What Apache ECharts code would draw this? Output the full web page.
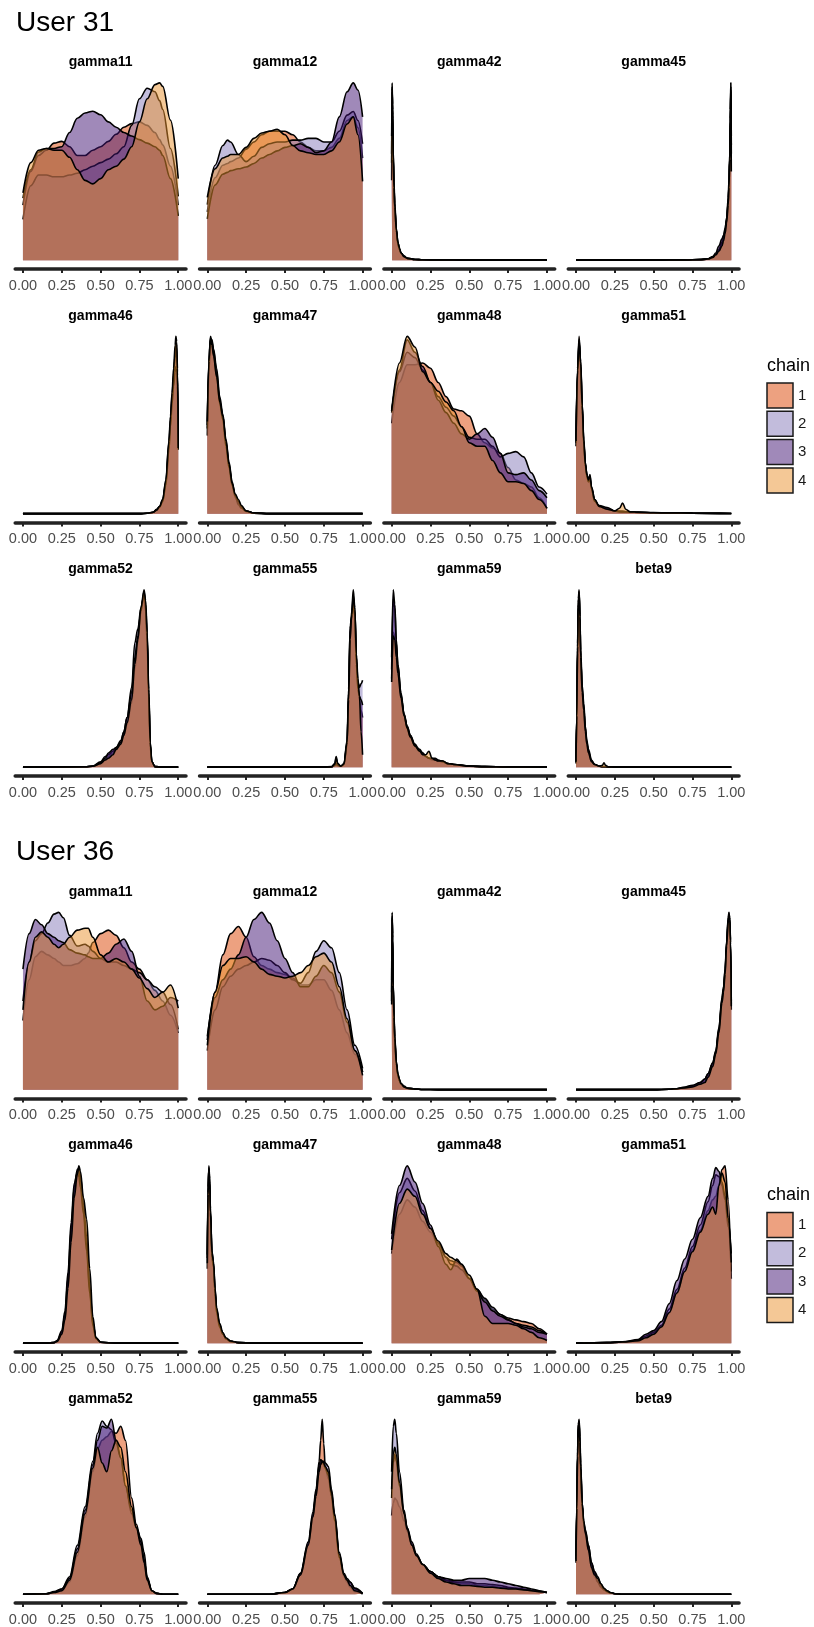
<!DOCTYPE html>
<html>
<head>
<meta charset="utf-8">
<script src="https://cdn.jsdelivr.net/npm/echarts@6/dist/echarts.min.js"></script>
<style>
html,body{margin:0;padding:0;background:#ffffff;}
#chart{width:814px;height:1627px;}
</style>
</head>
<body>
<div id="chart"></div>
<script>
// ---- chains, parameters, axis ticks ----
const chains = ['1', '2', '3', '4'];
const chainFill = ['rgba(219,67,1,0.5)', 'rgba(133,121,185,0.5)', 'rgba(65,19,115,0.5)', 'rgba(233,145,45,0.5)'];
const users = ['User 31', 'User 36'];
const params = ['gamma11', 'gamma12', 'gamma42', 'gamma45', 'gamma46', 'gamma47', 'gamma48', 'gamma51', 'gamma52', 'gamma55', 'gamma59', 'beta9'];
const xTicks = [0, 0.25, 0.5, 0.75, 1];
const xTickLabels = ['0.00', '0.25', '0.50', '0.75', '1.00'];

// ---- posterior densities, User 31 (x grid, then one row per chain) ----
const u31_gamma11_x = [0,0.05,0.1,0.15,0.2,0.25,0.3,0.35,0.4,0.45,0.5,0.55,0.6,0.65,0.7,0.75,0.8,0.85,0.88,0.9,0.95,1];
const u31_gamma11 = [
  [31,50,59,62,66,67,64,59,59,62,64,67,71,75,77,78,76,72,68,65,53,31],
  [23,42,48,48,47,47,48,49,51,53,55,57,60,64,76,91,97,95,90,85,63,36],
  [35,51,61,63,63,64,72,80,83,84,82,78,75,72,70,68,66,64,62,59,46,25],
  [38,55,62,63,62,62,58,51,45,43,46,51,53,57,64,78,91,99,100,98,79,46]
];
const u31_gamma12_x = [0,0.05,0.1,0.13,0.15,0.2,0.25,0.3,0.35,0.4,0.45,0.5,0.55,0.6,0.65,0.7,0.75,0.8,0.85,0.9,0.94,0.97,1];
const u31_gamma12 = [
  [27,46,53,54,55,57,62,66,70,72,72,72,70,66,63,61,61,63,68,78,80,74,57],
  [31,53,64,67,66,59,55,58,63,65,66,66,67,67,68,68,66,66,72,81,83,78,65],
  [23,42,48,49,50,51,52,54,57,59,61,63,64,65,63,60,61,66,80,94,99,95,80],
  [35,51,57,58,59,59,63,68,71,72,73,70,64,61,60,59,59,61,66,76,80,70,44]
];
const u31_gamma42_x = [0,0.003,0.006,0.01,0.015,0.02,0.03,0.04,0.05,0.06,0.08,0.1,0.15,0.2,0.3,0.5,0.75,1];
const u31_gamma42 = [
  [60,100,85,60,42,30,17,10,6,4,2,1,0.4,0.2,0.1,0,0,0],
  [45,95,88,62,44,32,18,10,6,4,2,1,0.4,0.2,0.1,0,0,0],
  [55,98,82,58,40,29,16,9,6,4,2.5,1,0.4,0.2,0.1,0,0,0],
  [70,97,80,57,41,30,17,10,7,4,2,1,0.4,0.2,0.1,0,0,0]
];
const u31_gamma45_x = [0,0.25,0.5,0.7,0.8,0.85,0.88,0.9,0.92,0.94,0.95,0.96,0.97,0.98,0.985,0.99,0.994,0.997,1];
const u31_gamma45 = [
  [0,0,0,0.1,0.3,0.6,1.5,3,5,9,12,16,22,33,42,58,80,98,70],
  [0,0,0,0.1,0.3,0.6,1.5,3,6,10,13,17,24,35,45,60,85,100,60],
  [0,0,0,0.1,0.4,0.8,2,4,8,12,14,18,23,32,42,56,78,95,65],
  [0,0,0,0.1,0.3,0.6,1.5,3,5,8,11,15,21,31,41,57,79,96,50]
];
const u31_gamma46_x = [0,0.5,0.75,0.8,0.84,0.86,0.88,0.9,0.92,0.94,0.95,0.96,0.97,0.98,0.985,0.99,0.995,1];
const u31_gamma46 = [
  [0,0,0,0.2,0.8,2,4,8,18,40,53,66,78,90,96,94,80,40],
  [0,0,0,0.2,0.8,2.5,4,7,17,38,51,64,77,88,93,90,78,38],
  [0,0,0,0.2,0.8,2,3.5,7,16,36,49,62,72,80,83,82,72,36],
  [0,0,0,0.2,0.8,2,4,8,19,41,55,68,82,95,100,97,82,37]
];
const u31_gamma47_x = [0,0.01,0.02,0.03,0.04,0.06,0.08,0.1,0.12,0.14,0.16,0.18,0.2,0.22,0.25,0.3,0.4,0.6,1];
const u31_gamma47 = [
  [50,85,100,97,92,80,64,55,40,27,16,9,6,4,1.5,0.3,0,0,0],
  [44,80,96,98,93,82,66,56,42,29,18,10,5,3,1.5,0.3,0,0,0],
  [48,84,99,96,90,78,62,53,38,26,16,10,7,3.5,1.2,0.3,0,0,0],
  [52,86,98,95,89,77,63,55,41,28,17,11,8,4.5,1.5,0.4,0,0,0]
];
const u31_gamma48_x = [0,0.05,0.1,0.15,0.2,0.25,0.3,0.35,0.4,0.45,0.5,0.55,0.6,0.65,0.7,0.75,0.8,0.85,0.9,0.95,1];
const u31_gamma48 = [
  [51,74,84,84,85,82,74,66,59,58,55,45,40,37,34,26,19,17,15,9,3],
  [58,80,91,88,81,74,66,60,55,49,43,42,42,38,32,34,35,32,23,15,11],
  [57,81,98,91,83,74,64,57,51,45,42,45,48,43,34,23,22,23,19,13,9],
  [58,85,100,94,80,74,69,63,58,49,40,38,38,30,23,18,18,17,13,8,3]
];
const u31_gamma51_x = [0,0.01,0.02,0.03,0.04,0.05,0.06,0.07,0.08,0.09,0.1,0.12,0.15,0.2,0.25,0.28,0.3,0.32,0.35,0.4,0.5,0.6,0.75,1];
const u31_gamma51 = [
  [42,82,100,84,60,40,28,22,19,21,15,8,4,2.5,1.5,1.5,1.5,1.2,1,0.8,0.5,0.4,0.3,0.1],
  [38,78,96,86,62,42,29,22,18,19,14,7,4,2.5,1.5,1.2,1,1,0.8,0.7,0.6,0.4,0.3,0.1],
  [40,80,97,83,58,39,27,21,18,20,14,7,4.5,3.5,1.5,1,1,1,0.8,0.7,0.5,0.4,0.3,0.1],
  [41,81,98,85,61,41,28,22,19,22,15,8,4,2.5,1.5,3,6,2.5,1,0.8,0.5,0.4,0.3,0.1]
];
const u31_gamma52_x = [0,0.4,0.45,0.5,0.53,0.55,0.58,0.6,0.63,0.65,0.67,0.7,0.72,0.74,0.76,0.78,0.79,0.8,0.81,0.82,0.83,0.85,0.9,1];
const u31_gamma52 = [
  [0,0.2,0.5,2,4,6,8,10,14,18,24,36,55,70,88,98,90,72,40,12,3,0.3,0,0],
  [0,0.2,0.6,3,6,7,9,11,15,20,28,45,70,78,90,97,88,70,38,11,3,0.3,0,0],
  [0,0.2,0.5,2.5,5,8,10,11,14,20,28,42,62,74,88,99,92,74,42,13,3,0.3,0,0],
  [0,0.2,0.5,2,4,5,7,10,13,18,25,38,58,72,90,100,94,76,44,14,3,0.3,0,0]
];
const u31_gamma55_x = [0,0.5,0.75,0.8,0.82,0.83,0.84,0.86,0.88,0.9,0.91,0.92,0.93,0.94,0.95,0.96,0.97,0.98,0.99,1];
const u31_gamma55 = [
  [0,0,0,0.3,2,6,2,0.5,1.5,12,40,75,88,100,90,60,45,38,32,28],
  [0,0,0,0.2,1,2,1,0.5,2,15,44,78,85,95,88,62,48,45,47,49],
  [0,0,0,0.2,1,1.5,1,0.5,1.5,13,42,80,84,92,85,58,44,40,38,35],
  [0,0,0,0.2,1.5,5,2,0.5,1.8,14,38,72,86,97,89,64,50,40,20,7]
];
const u31_gamma59_x = [0,0.01,0.02,0.03,0.04,0.06,0.08,0.1,0.12,0.15,0.18,0.2,0.22,0.24,0.26,0.28,0.3,0.33,0.36,0.4,0.5,0.6,0.75,1];
const u31_gamma59 = [
  [50,76,74,64,55,40,30,23,18,13,9,7,6,5,4,4,3.5,3.5,2,1.5,0.6,0.3,0.1,0],
  [55,95,90,70,58,42,30,23,18,12,10,8,6,5,4.5,4,3.5,3,2,1.5,0.6,0.3,0.1,0],
  [62,100,92,72,58,41,29,22,17,12,9,8,6,5,5,5,4,3,2,1.5,0.6,0.3,0.1,0],
  [48,74,72,62,53,39,29,22,17,12,9,7,7,9,5,4,3.5,3.5,2,1.5,0.5,0.3,0.1,0]
];
const u31_beta9_x = [0,0.005,0.01,0.015,0.02,0.025,0.03,0.04,0.05,0.06,0.07,0.08,0.1,0.12,0.15,0.17,0.18,0.19,0.21,0.25,0.5,1];
const u31_beta9 = [
  [3,30,70,95,100,85,62,42,32,20,13,8,3,1.5,0.5,0.3,0.2,0.2,0.1,0,0,0],
  [3,28,66,92,97,84,63,44,34,22,14,9,3.5,1.5,0.5,0.3,0.2,0.2,0.1,0,0,0],
  [2,26,64,90,98,86,66,46,36,23,15,10,4,1.5,0.5,0.3,0.2,0.2,0.1,0,0,0],
  [3,29,68,93,99,85,62,42,32,20,13,8,3,1.5,0.5,1,2.5,1,0.1,0,0,0]
];

// ---- posterior densities, User 36 ----
const u36_gamma11_x = [0,0.04,0.08,0.12,0.16,0.2,0.23,0.26,0.3,0.35,0.4,0.42,0.45,0.5,0.55,0.6,0.65,0.7,0.75,0.8,0.85,0.9,0.95,1];
const u36_gamma11 = [
  [39,62,75,78,76,74,72,70,70,71,74,77,83,88,90,87,80,72,68,62,56,50,42,32],
  [50,72,84,88,94,99,100,97,87,81,82,81,78,74,72,72,70,68,66,62,58,55,48,34],
  [68,88,96,93,88,86,84,83,79,77,76,75,74,74,77,82,85,78,64,50,45,47,52,50],
  [45,72,86,89,86,82,80,82,86,90,91,91,86,76,72,74,72,68,63,57,52,55,59,46]
];
const u36_gamma12_x = [0,0.05,0.1,0.15,0.2,0.25,0.3,0.35,0.4,0.45,0.5,0.55,0.6,0.65,0.7,0.75,0.8,0.85,0.9,0.95,1];
const u36_gamma12 = [
  [28,55,76,88,92,86,75,70,68,66,65,63,59,59,62,62,56,45,32,20,10],
  [22,45,58,64,68,70,72,74,73,70,66,62,60,66,78,84,80,66,45,25,12],
  [30,52,62,68,76,86,96,100,94,84,74,66,58,58,64,70,66,55,38,22,10],
  [25,55,70,74,74,75,72,68,65,64,63,64,66,70,75,77,72,58,40,22,8]
];
const u36_gamma42_x = [0,0.003,0.006,0.01,0.015,0.02,0.03,0.04,0.05,0.06,0.08,0.1,0.15,0.2,0.3,0.5,0.75,1];
const u36_gamma42 = [
  [55,100,86,58,40,28,15,8,5,3,1.5,0.8,0.3,0.1,0,0,0,0],
  [50,97,88,60,42,30,16,9,5,3,1.5,0.8,0.3,0.1,0,0,0,0],
  [62,98,84,56,38,27,14,8,5,3.5,2,0.8,0.3,0.1,0,0,0,0],
  [48,96,85,59,41,29,15,9,6,3.5,1.5,0.8,0.3,0.1,0,0,0,0]
];
const u36_gamma45_x = [0,0.5,0.6,0.65,0.7,0.75,0.8,0.83,0.85,0.88,0.9,0.92,0.94,0.95,0.96,0.97,0.98,0.985,0.99,0.995,1];
const u36_gamma45 = [
  [0,0,0.2,0.5,1,2,3.5,5,8,14,21,33,50,56,66,82,95,99,97,85,48],
  [0,0,0.2,0.5,1,2,4,6,9,15,22,35,52,58,68,84,97,100,96,82,45],
  [0,0,0.2,0.5,1.5,2.5,4,6,9,15,21,34,51,57,67,83,96,98,95,83,50],
  [0,0,0.2,0.5,1,1.5,3,4,7,13,20,32,49,55,65,81,94,98,96,84,47]
];
const u36_gamma46_x = [0,0.15,0.2,0.22,0.25,0.27,0.29,0.31,0.33,0.35,0.36,0.37,0.39,0.41,0.43,0.45,0.47,0.5,0.6,1];
const u36_gamma46 = [
  [0,0,0.3,1,5,14,33,60,85,97,99,95,78,60,32,12,3,0.5,0,0],
  [0,0,0.3,1.2,6,16,37,64,88,98,97,92,75,55,30,11,3,0.5,0,0],
  [0,0,0.4,1.5,7,18,40,68,90,96,94,88,73,52,28,10,2.5,0.5,0,0],
  [0,0,0.3,1,5,13,31,57,82,95,100,97,82,70,42,15,3,0.5,0,0]
];
const u36_gamma47_x = [0,0.005,0.01,0.015,0.02,0.03,0.04,0.05,0.06,0.08,0.1,0.12,0.15,0.2,0.3,0.5,1];
const u36_gamma47 = [
  [48,85,99,92,75,52,45,30,19,10,5,2.5,1,0.3,0,0,0],
  [42,82,100,93,76,50,44,29,18,10,5,2.5,1,0.3,0,0,0],
  [50,88,98,90,73,48,43,28,17,9,5,2.5,1,0.3,0,0,0],
  [45,84,97,91,74,51,46,31,20,11,6,3,1.2,0.3,0,0,0]
];
const u36_gamma48_x = [0,0.05,0.1,0.15,0.2,0.25,0.3,0.35,0.38,0.42,0.45,0.5,0.55,0.6,0.65,0.7,0.75,0.8,0.85,0.9,0.95,1];
const u36_gamma48 = [
  [50,72,80,76,68,62,55,48,46,45,43,36,30,24,19,16,14,13,12,11,8,5],
  [58,84,92,85,74,64,56,48,44,43,41,36,30,25,20,16,13,11,10,9,7,5],
  [61,88,99,90,78,66,54,44,41,47,44,36,29,23,18,15,13,11,9,8,6,5],
  [52,78,86,82,72,64,57,50,48,46,44,38,30,15,11,11,11,10,8,6,3,1.5]
];
const u36_gamma51_x = [0,0.2,0.3,0.4,0.45,0.5,0.55,0.6,0.65,0.7,0.75,0.8,0.85,0.88,0.9,0.92,0.94,0.96,0.98,1];
const u36_gamma51 = [
  [0,0.3,0.6,1.2,3,5,9,17,28,40,52,63,74,80,82,88,97,99,80,36],
  [0,0.3,0.6,1.5,4,6,10,19,30,42,54,66,79,88,94,93,88,80,65,40],
  [0,0.3,0.7,2,5,7,12,22,35,47,58,70,82,92,98,96,90,82,68,50],
  [0,0.3,0.6,1.3,3,5,9,17,28,40,51,62,72,76,72,88,95,90,70,45]
];
const u36_gamma52_x = [0,0.15,0.2,0.25,0.3,0.35,0.4,0.45,0.48,0.51,0.54,0.57,0.6,0.63,0.66,0.7,0.73,0.76,0.78,0.8,0.83,0.86,0.9,1];
const u36_gamma52 = [
  [0,0.3,1,2,7,22,44,70,83,88,90,93,92,96,88,55,40,30,20,9,2,0.5,0,0],
  [0,0.3,1,3,10,28,50,76,92,99,96,94,86,78,62,46,38,32,24,10,2,0.5,0,0],
  [0,0.3,1.5,3,9,26,48,74,88,96,95,100,88,78,62,48,38,30,20,9,2,0.5,0,0],
  [0,0.3,1,2,8,24,46,72,84,75,70,82,88,84,70,50,38,28,18,8,2,0.5,0,0]
];
const u36_gamma55_x = [0,0.4,0.5,0.55,0.6,0.65,0.68,0.7,0.72,0.73,0.74,0.75,0.76,0.78,0.8,0.82,0.85,0.88,0.9,0.92,0.95,1];
const u36_gamma55 = [
  [0,0,1,3,11,28,44,58,76,88,100,86,72,66,56,44,22,10,7,4,1.5,0.3],
  [0,0,1,3,12,29,45,58,72,75,76,76,75,73,60,46,24,12,9,7,3,0.5],
  [0,0,1,3,12,30,47,60,74,77,76,74,72,68,56,42,21,11,8,7,3.5,0.5],
  [0,0,1,3,11,28,44,56,70,74,76,75,73,70,58,45,23,11,8,5,2,0.3]
];
const u36_gamma59_x = [0,0.01,0.02,0.03,0.05,0.08,0.1,0.13,0.16,0.2,0.25,0.3,0.35,0.4,0.45,0.5,0.55,0.6,0.65,0.7,0.75,0.8,0.85,0.9,0.95,1];
const u36_gamma59 = [
  [45,52,55,54,50,42,36,28,22,17,13,10,8,7,6,6,5,5,4.5,4,3.5,3,2.5,2,1.5,1],
  [70,96,100,92,70,48,38,28,22,17,13,10,8,7,7,7,6,6,5.5,5,4,3.5,3,2,1.5,1],
  [55,75,80,76,62,46,38,30,23,17,13,10,9,8,8,9,9,9,8,7,6,5,4,3,2,1],
  [60,80,84,80,64,46,37,28,22,17,12,9,7,6,5,5,4.5,4,4,3.5,3,3,2.5,2,1.5,1]
];
const u36_beta9_x = [0,0.005,0.01,0.015,0.02,0.025,0.03,0.04,0.05,0.06,0.08,0.1,0.12,0.14,0.16,0.18,0.2,0.22,0.25,0.3,0.5,1];
const u36_beta9 = [
  [20,50,80,97,100,90,75,52,40,34,26,16,10,7,5,3,2,1,0.3,0,0,0],
  [18,48,78,95,99,88,72,50,40,36,28,18,12,7,4,2.5,1.5,0.8,0.3,0,0,0],
  [22,52,82,98,98,86,70,50,41,37,28,18,13,10,6,3,1.5,0.8,0.3,0,0,0],
  [19,49,79,96,97,87,73,52,42,35,25,15,11,9,6,3.5,2,1,0.3,0,0,0]
];

// panels per user, in facet order (4 columns x 3 rows)
const userPanels = [
  [[u31_gamma11_x,u31_gamma11],[u31_gamma12_x,u31_gamma12],[u31_gamma42_x,u31_gamma42],[u31_gamma45_x,u31_gamma45],
   [u31_gamma46_x,u31_gamma46],[u31_gamma47_x,u31_gamma47],[u31_gamma48_x,u31_gamma48],[u31_gamma51_x,u31_gamma51],
   [u31_gamma52_x,u31_gamma52],[u31_gamma55_x,u31_gamma55],[u31_gamma59_x,u31_gamma59],[u31_beta9_x,u31_beta9]],
  [[u36_gamma11_x,u36_gamma11],[u36_gamma12_x,u36_gamma12],[u36_gamma42_x,u36_gamma42],[u36_gamma45_x,u36_gamma45],
   [u36_gamma46_x,u36_gamma46],[u36_gamma47_x,u36_gamma47],[u36_gamma48_x,u36_gamma48],[u36_gamma51_x,u36_gamma51],
   [u36_gamma52_x,u36_gamma52],[u36_gamma55_x,u36_gamma55],[u36_gamma59_x,u36_gamma59],[u36_beta9_x,u36_beta9]]
];

// ---- layout ----
const FONT = '"Liberation Sans", Arial, Helvetica, sans-serif';
const colLeft0 = 15.2, colPitch = 184.35, panelW = 170.8;
const rowTop0 = 74, rowPitch = 253.5, panelH = 195;
const blockPitch = 829.5;
const axisInk = '#222222';

const grids = [], xAxes = [], yAxes = [], series = [], graphics = [];

userPanels.forEach((panels, b) => {
  const off = b * blockPitch;
  graphics.push({
    type: 'text', left: 16, top: 9 + off,
    style: { text: users[b], font: '28px ' + FONT, fill: '#000' }
  });

  panels.forEach(([xs, ys], i) => {
    const r = Math.floor(i / 4), c = i % 4;
    const left = colLeft0 + c * colPitch;
    const top = rowTop0 + r * rowPitch + off;
    const gi = grids.length;
    grids.push({ left: left, top: top, width: panelW, height: panelH });

    const peak = Math.max(...ys.map(row => Math.max(...row)));
    xAxes.push({
      gridIndex: gi, type: 'value', min: -0.05, max: 1.05,
      axisLine: { show: true, onZero: false, lineStyle: { color: axisInk, width: 3.5 } },
      axisTick: { show: true, customValues: xTicks, length: 4, lineStyle: { color: axisInk, width: 2 } },
      axisLabel: {
        customValues: xTicks, margin: 9, fontSize: 14.5, color: '#4D4D4D', fontFamily: FONT,
        formatter: v => { const k = xTicks.indexOf(v); return k >= 0 ? xTickLabels[k] : v.toFixed(2); }
      },
      splitLine: { show: false }
    });
    yAxes.push({ gridIndex: gi, type: 'value', min: -0.05 * peak, max: 1.05 * peak, show: false });

    // later chains sit above earlier ones, so their translucent fills soften the lines beneath
    ys.forEach((vals, k) => {
      series.push({
        type: 'line', name: chains[k], xAxisIndex: gi, yAxisIndex: gi,
        z: 2 + k,
        data: xs.map((x, j) => [x, vals[j]]),
        smooth: 0.35, smoothMonotone: 'x', symbol: 'none', showSymbol: false,
        lineStyle: { color: '#000', width: 1.6 },
        areaStyle: { color: chainFill[k], opacity: 1 },
        itemStyle: { color: chainFill[k] },
        silent: true, animation: false
      });
    });

    graphics.push({
      type: 'text', x: left + panelW / 2, y: top - 11.5,
      style: { text: params[i], font: 'bold 14px ' + FONT, fill: '#000', align: 'center', verticalAlign: 'middle' }
    });
  });

  // chain key
  graphics.push({
    type: 'text', x: 767, y: 366 + off,
    style: { text: 'chain', font: '18px ' + FONT, fill: '#000', align: 'left', verticalAlign: 'middle' }
  });
  chains.forEach((name, k) => {
    const y = 383 + k * 28.3 + off;
    graphics.push({
      type: 'rect', shape: { x: 767, y: y, width: 26, height: 25 },
      style: { fill: chainFill[k], stroke: '#1a1a1a', lineWidth: 1.5 }
    });
    graphics.push({
      type: 'text', x: 798, y: y + 12.5,
      style: { text: name, font: '15px ' + FONT, fill: '#1a1a1a', align: 'left', verticalAlign: 'middle' }
    });
  });
});

const chart = echarts.init(document.getElementById('chart'), null, { renderer: 'canvas' });
chart.setOption({
  backgroundColor: '#ffffff',
  animation: false,
  grid: grids,
  xAxis: xAxes,
  yAxis: yAxes,
  series: series,
  graphic: graphics
});
</script>
</body>
</html>
